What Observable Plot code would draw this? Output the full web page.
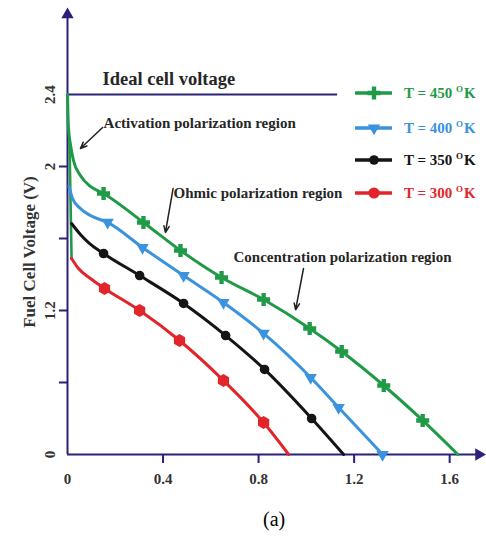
<!DOCTYPE html>
<html>
<head>
<meta charset="utf-8">
<script src="https://cdn.jsdelivr.net/npm/d3@7"></script>
<script src="https://cdn.jsdelivr.net/npm/@observablehq/plot@0.6"></script>
<style>
  body { margin: 0; background: #fff; }
  #wrap { position: relative; width: 486px; height: 547px; font-family: "Liberation Serif", "Times New Roman", serif; }
  #chart { position: absolute; left: 0; top: 0; }
  .row { position: absolute; left: 354px; height: 20px; display: flex; align-items: center; white-space: nowrap; font-weight: bold; font-size: 15px; font-family: "Liberation Serif", serif; }
  .row svg { display: block; margin-right: 10px; }
  .row sup { font-size: 9px; vertical-align: 0; position: relative; top: -6px; margin-right: 1px; }
  #caption { position: absolute; left: 263px; top: 508px; font-size: 20px; line-height: 22px; font-family: "Liberation Serif", serif; }
</style>
</head>
<body>
<div id="wrap">
  <div id="chart"></div>
  <div id="legend"></div>
  <div id="caption">(a)</div>
</div>
<script>
// Series: [current density, cell voltage, marker flag]
const curve450 = [
  [0, 2.4, 0], [0.004, 2.18, 0], [0.013, 2.06, 0], [0.025, 1.96, 0], [0.054, 1.86, 0],
  [0.096, 1.787, 0], [0.151, 1.74, 1], [0.318, 1.547, 1], [0.473, 1.36, 1], [0.645, 1.18, 1],
  [0.821, 1.033, 1], [1.014, 0.84, 1], [1.148, 0.687, 1], [1.324, 0.46, 1], [1.487, 0.227, 1],
  [1.634, 0, 0]
];
const curve400 = [
  [0.006, 1.787, 0], [0.021, 1.707, 0], [0.054, 1.64, 0], [0.096, 1.593, 0], [0.168, 1.547, 1],
  [0.314, 1.38, 1], [0.486, 1.193, 1], [0.653, 1.013, 1], [0.821, 0.807, 1], [1.018, 0.513, 1],
  [1.135, 0.313, 1], [1.319, 0, 1]
];
const curve350 = [
  [0.017, 1.54, 0], [0.054, 1.467, 0], [0.088, 1.413, 0], [0.151, 1.34, 1], [0.302, 1.193, 1],
  [0.486, 1.007, 1], [0.662, 0.793, 1], [0.825, 0.567, 1], [1.022, 0.24, 1], [1.156, 0, 0]
];
const curve300 = [
  [0.017, 1.307, 0], [0.046, 1.24, 0], [0.096, 1.173, 0], [0.155, 1.107, 1], [0.302, 0.96, 1],
  [0.469, 0.76, 1], [0.653, 0.493, 1], [0.821, 0.213, 1], [0.926, 0, 0]
];
// steep activation drop drawn down to the 300 K start
const activationDrop = [[0.008, 2.1], [0.017, 1.307]];

const seriesNames = ["450", "400", "350", "300"];
const seriesColors = ["#1f9a47", "#3a93dc", "#151515", "#e2252a"];
const seriesSymbols = ["cross", "triangle", "circle", "hexagon"];
const seriesSizes = [5.5, 4.6, 4.8, 5.6];
const seriesRotate = [0, 180, 0, 0];

const idealVoltage = 2.4;
const idealEnd = 1.131;

const xTicks = [0, 0.4, 0.8, 1.2, 1.6];
const xTickLabels = ["0", "0.4", "0.8", "1.2", "1.6"];
const yTicks = [0, 0.48, 0.96, 1.44, 1.92, 2.4];
const yTickLabels = ["0", "", "1.2", "", "2", "2.4"];

const yTitle = "Fuel Cell Voltage (V)";
const notes = [
  {text: "Ideal cell voltage", x: 0.147, y: 2.5, size: 18.5},
  {text: "Activation polarization region", x: 0.151, y: 2.207, size: 15},
  {text: "Ohmic polarization region", x: 0.444, y: 1.74, size: 15},
  {text: "Concentration polarization region", x: 0.695, y: 1.313, size: 15}
];
const pointers = [
  {x1: 0.147, y1: 2.18, x2: 0.054, y2: 2.04},
  {x1: 0.442, y1: 1.773, x2: 0.41, y2: 1.48},
  {x1: 0.988, y1: 1.24, x2: 0.955, y2: 0.965}
];
const axisEnds = {yTop: 2.933, xRight: 1.722};

const navy = "#2b2179";
const serif = "Liberation Serif";
const curves = [curve450, curve400, curve350, curve300];

const marks = [];
// axes lines with filled arrowheads
marks.push(Plot.ruleX([0], {y1: 0, y2: 2.93, stroke: navy, strokeWidth: 2}));
marks.push(Plot.ruleY([0], {x1: 0, x2: 1.72, stroke: navy, strokeWidth: 2}));
marks.push(Plot.dot([[0, axisEnds.yTop]], {x: d => d[0], y: d => d[1], symbol: "triangle", r: 4.6, fill: navy, stroke: "none"}));
marks.push(Plot.dot([[axisEnds.xRight, 0]], {x: d => d[0], y: d => d[1], symbol: "triangle", r: 4.6, rotate: 90, fill: navy, stroke: "none"}));
marks.push(Plot.axisX({ticks: xTicks.slice(1), tickSize: 9, tickFormat: () => "", stroke: navy, strokeWidth: 2, label: null}));
marks.push(Plot.axisY({ticks: yTicks.slice(1, -1), tickSize: 8, tickFormat: () => "", stroke: navy, strokeWidth: 2, label: null}));
// ideal voltage
marks.push(Plot.ruleY([idealVoltage], {x1: 0, x2: idealEnd, stroke: navy, strokeWidth: 2}));

// tick labels
marks.push(Plot.text(xTicks, {x: d => d, y: 0, dy: 25, text: (d, i) => xTickLabels[i], fontSize: 15, fontWeight: "bold", fontFamily: serif, fill: "#333"}));
marks.push(Plot.text(yTicks, {x: 0, y: d => d, dx: -17, rotate: -90, text: (d, i) => yTickLabels[i], fontSize: 15, fontWeight: "bold", fontFamily: serif, fill: "#333"}));
marks.push(Plot.text([yTitle], {x: 0, y: 1.35, dx: -38, rotate: -90, text: d => d, fontSize: 17, fontWeight: "bold", fontFamily: serif, fill: "#333"}));

// curves
marks.push(Plot.line(activationDrop, {x: d => d[0], y: d => d[1], stroke: seriesColors[0], strokeWidth: 2.6}));
curves.forEach((c, i) => {
  marks.push(Plot.line(c, {x: d => d[0], y: d => d[1], stroke: seriesColors[i], strokeWidth: 3, curve: "monotone-x"}));
});
curves.forEach((c, i) => {
  marks.push(Plot.dot(c.filter(d => d[2]), {
    x: d => d[0], y: d => d[1], symbol: seriesSymbols[i], r: seriesSizes[i], rotate: seriesRotate[i],
    fill: seriesColors[i], stroke: "none"
  }));
});

// annotations
notes.forEach(n => {
  marks.push(Plot.text([n], {x: "x", y: "y", text: "text", textAnchor: "start", fontSize: n.size, fontWeight: "bold", fontFamily: serif, fill: "#262626"}));
});
marks.push(Plot.arrow(pointers, {x1: "x1", y1: "y1", x2: "x2", y2: "y2", stroke: "#222", strokeWidth: 1.5, headLength: 7, headAngle: 45}));

const chart = Plot.plot({
  width: 486,
  height: 500,
  marginLeft: 67,
  marginRight: 1,
  marginTop: 4,
  marginBottom: 46,
  x: {domain: [0, 1.75]},
  y: {domain: [0, 3]},
  style: {fontFamily: "'Liberation Serif', serif", background: "transparent", overflow: "visible"},
  marks
});
document.getElementById("chart").append(chart);

// legend beside the curves
const legendRows = [93, 128, 160, 193];
const legend = d3.select("#legend");
seriesNames.forEach((name, i) => {
  const row = legend.append("div").attr("class", "row").style("top", (legendRows[i] - 10) + "px").style("color", seriesColors[i]);
  const svg = row.append("svg").attr("width", 40).attr("height", 20);
  svg.append("line").attr("x1", 1).attr("x2", 38).attr("y1", 10).attr("y2", 10)
    .attr("stroke", seriesColors[i]).attr("stroke-width", 3.5);
  const size = Math.PI * seriesSizes[i] * seriesSizes[i];
  const sym = {cross: d3.symbolCross, triangle: d3.symbolTriangle, circle: d3.symbolCircle, hexagon: d3.symbolCircle}[seriesSymbols[i]];
  svg.append("path").attr("d", d3.symbol(sym, size)())
    .attr("transform", `translate(20,10) rotate(${seriesRotate[i]})`).attr("fill", seriesColors[i]);
  row.append("span").html(`T = ${name} <sup>O</sup>K`);
});
</script>
</body>
</html>
